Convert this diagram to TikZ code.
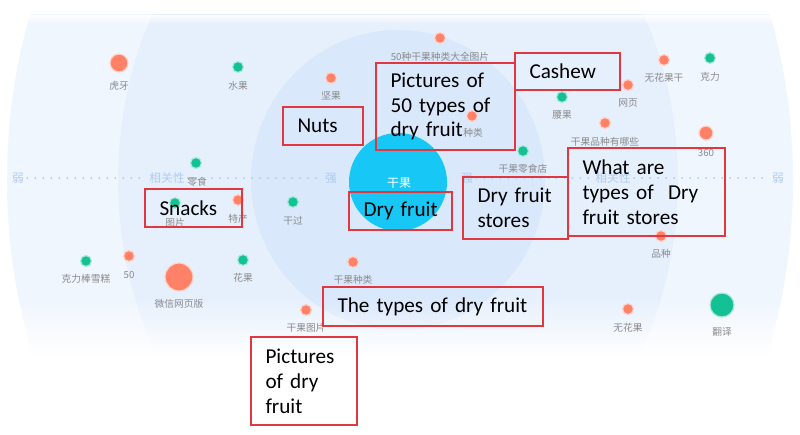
\documentclass[tikz,border=0pt]{standalone}
\usepackage{fontspec}
\setmainfont{Carlito}
\newfontfamily\cjk{Noto Sans CJK SC}
\definecolor{bgout}{HTML}{F0F6FE}
\definecolor{bgmid}{HTML}{E6F0FD}
\definecolor{bgin}{HTML}{D9E8FB}
\definecolor{cyanc}{HTML}{17C7F6}
\definecolor{dotor}{HTML}{FF8268}
\definecolor{dotgr}{HTML}{14C194}
\definecolor{labgray}{HTML}{8A8A8A}
\definecolor{axisc}{HTML}{AFCBEF}
\definecolor{boxred}{HTML}{E0383E}
\tikzset{
  od/.style={circle, fill=dotor, draw=dotor!35, line width=0.9pt, inner sep=0pt, minimum size=#1},
  gd/.style={circle, fill=dotgr, draw=dotgr!35, line width=0.9pt, inner sep=0pt, minimum size=#1},
  lab/.style={font=\cjk\fontsize{7.3}{8}\selectfont, text=labgray, inner sep=1pt},
  axl/.style={font=\cjk\fontsize{8.8}{10}\selectfont, text=axisc, inner sep=2.5pt},
  axisdots/.style={axisc, line width=1.5pt, line cap=round, dash pattern=on 0pt off 6pt},
  tbox/.style={draw=boxred, line width=1.1pt, rectangle, align=left,
    font=\fontsize{15.9}{18.6}\selectfont, text=black, inner xsep=10.9pt, inner ysep=0pt}
}
\begin{document}
\begin{tikzpicture}[x=0.75pt, y=-0.75pt]
\useasboundingbox (0,0) rectangle (800,435);
\fill[white] (0,0) rectangle (800,435);
% background bands
\begin{scope}
\clip (0,15) rectangle (800,358);
\fill[bgout] (400,180) ellipse [x radius=294.75pt, y radius=366.75pt];
\fill[bgmid] (398,180) ellipse [x radius=210pt, y radius=258.75pt];
\fill[bgin] (398,180) ellipse [x radius=110.25pt, y radius=112.5pt];
\end{scope}
% soft edges
\foreach \i in {0,...,20} {
  \fill[white, opacity=\i/20] (0,296+\i*3) rectangle (800,299.2+\i*3);
}
\fill[white] (0,358) rectangle (800,435);
\foreach \i in {0,...,4} {
  \fill[white, opacity=0.8-\i*0.18] (0,15+\i*2) rectangle (800,17.2+\i*2);
}
% core
\node[circle, fill=cyanc, inner sep=0pt, minimum size=73.5pt] (core) at (398,182) {};
\node[font=\cjk\fontsize{9}{10}\selectfont, text=white] (coreL) at (399,183) {干果};
% axis
\node[axl] (wL) at (18,178) {弱};
\node[axl] (xgL) at (167,178) {相关性};
\node[axl] (qL) at (331,178) {强};
\node[axl] (qR) at (467,178) {强};
\node[axl] (xgR) at (613,178) {相关性};
\node[axl] (wR) at (778,178) {弱};
\draw[axisdots] (wL) -- (xgL);
\draw[axisdots] (xgL) -- (qL);
\draw[axisdots] (qR) -- (xgR);
\draw[axisdots] (xgR) -- (wR);
% dots
\node[od=13.5pt] (d1) at (119,63) {};   \node[lab] (l1) at (119,86) {虎牙};
\node[gd=8.25pt] (d2) at (238,67) {};   \node[lab] (l2) at (238,86) {水果};
\node[od=8.25pt] (d3) at (331,78) {};   \node[lab] (l3) at (331,96) {坚果};
\node[od=8.25pt] (d4) at (440,38) {};   \node[lab] (l4) at (440,57) {50种干果种类大全图片};
\node[od=8.25pt] (d5) at (472,116) {};  \node[lab] (l5) at (473,133) {种类};
\node[gd=8.25pt] (d6) at (562,97) {};   \node[lab] (l6) at (562,115) {腰果};
\node[od=8.25pt] (d7) at (628,85) {};   \node[lab] (l7) at (628,103) {网页};
\node[od=8.25pt] (d8) at (664,60) {};   \node[lab] (l8) at (664,78) {无花果干};
\node[gd=8.25pt] (d9) at (710,58) {};   \node[lab] (l9) at (710,77) {克力};
\node[od=8.25pt] (d10) at (605,123) {}; \node[lab] (l10) at (605,142) {干果品种有哪些};
\node[od=10.5pt] (d11) at (706,133) {}; \node[lab] (l11) at (706,153) {360};
\node[gd=8.25pt] (d12) at (523,151) {}; \node[lab] (l12) at (523,169) {干果零食店};
\node[gd=8.25pt] (d13) at (196,163) {}; \node[lab] (l13) at (197,182) {零食};
\node[gd=8.25pt] (d14) at (175,203) {}; \node[lab] (l14) at (175,223) {图片};
\node[od=8.25pt] (d15) at (238,200) {}; \node[lab] (l15) at (238,219) {特产};
\node[gd=8.25pt] (d16) at (293,202) {}; \node[lab] (l16) at (293,221) {干过};
\node[od=8.25pt] (d17) at (661,236) {}; \node[lab] (l17) at (661,254) {品种};
\node[gd=8.25pt] (d18) at (86,261) {};  \node[lab] (l18) at (86,279) {克力棒雪糕};
\node[od=8.25pt] (d19) at (129,256) {}; \node[lab] (l19) at (129,275) {50};
\node[od=21pt] (d20) at (179,277) {};   \node[lab] (l20) at (179,304) {微信网页版};
\node[gd=8.25pt] (d21) at (243,260) {}; \node[lab] (l21) at (243,278) {花果};
\node[od=8.25pt] (d22) at (353,262) {}; \node[lab] (l22) at (353,280) {干果种类};
\node[od=8.25pt] (d23) at (306,310) {}; \node[lab] (l23) at (306,328) {干果图片};
\node[od=8.25pt] (d24) at (628,309) {}; \node[lab] (l24) at (628,328) {无花果};
\node[gd=18pt] (d25) at (722,305) {};   \node[lab] (l25) at (722,332) {翻译};
% red text boxes
\node[tbox, text width=82.5pt, minimum height=65.25pt] (b1) at (445.5,106.5) {\mbox{Pictures of}\\\mbox{50 types of}\\\mbox{dry fruit}};
\node[tbox, text width=57pt, minimum height=27.75pt] (b2) at (567.5,71.5) {\mbox{Cashew}};
\node[tbox, text width=38.25pt, minimum height=28.5pt] (b3) at (323,126) {\mbox{Nuts}};
\node[tbox, text width=51pt, minimum height=28.5pt] (b4) at (193.5,208) {\mbox{Snacks}};
\node[tbox, text width=55.5pt, minimum height=28.5pt] (b5) at (400.5,211) {\mbox{Dry fruit}};
\node[tbox, text width=57pt, minimum height=46.5pt] (b6) at (515.5,208) {\mbox{Dry fruit}\\\mbox{stores}};
\node[tbox, text width=96pt, minimum height=66pt] (b7) at (646.5,192) {\mbox{What are}\\\mbox{types of\ \ Dry}\\\mbox{fruit stores}};
\node[tbox, text width=143.25pt, minimum height=29.25pt] (b8) at (433,306.5) {\mbox{The types of dry fruit}};
\node[tbox, text width=57.75pt, minimum height=66pt] (b9) at (304,381) {\mbox{Pictures}\\\mbox{of dry}\\\mbox{fruit}};
\end{tikzpicture}
\end{document}
